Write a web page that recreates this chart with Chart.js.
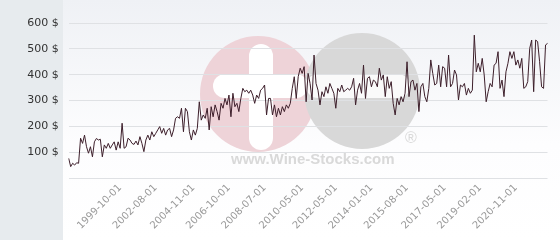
<!DOCTYPE html>
<html>
<head>
<meta charset="utf-8">
<script src="https://cdn.jsdelivr.net/npm/chart.js"></script>
<style>
  html, body { margin: 0; padding: 0; background: #e7ebee; }
</style>
</head>
<body>
<canvas id="priceChart" width="560" height="240"></canvas>
<script>
// Price per bottle
const prices = [
    76, 44, 57, 50, 59, 57, 154, 134, 166, 121, 96, 121, 82, 140, 153, 147, 150, 82, 128, 115,
    134, 115, 128, 140, 108, 140, 115, 212, 115, 121, 154, 147, 134, 130, 143, 128, 160, 134, 102, 147,
    166, 147, 179, 160, 173, 186, 199, 173, 192, 166, 186, 192,
    160, 186, 231, 237, 231, 270, 179, 270, 257, 179, 147, 186, 166, 192, 295, 224, 244, 231,
    270, 186, 276, 237, 283, 257, 224, 289, 270, 308, 283, 321, 237, 328, 276, 289, 257, 308,
    347, 334, 340, 328, 340, 321, 289, 321, 308, 340, 347, 360, 244, 308, 308, 244, 283, 237,
    270, 244, 276, 257, 283, 270, 289, 347,
    392, 308, 392, 425, 405, 431, 295, 405, 366, 302, 476, 366, 340, 283, 334, 315, 353, 328,
    366, 347, 328, 270, 347, 334, 360, 334, 340, 347, 340, 353, 386, 283, 340, 366, 328, 437,
    308, 386, 392, 353, 379, 373, 353, 425, 379, 399, 315, 392, 347, 373, 289, 244, 308, 283,
    315, 295, 328, 450, 315, 373, 379, 340, 366,
    257, 353, 366, 315, 295, 347, 457, 405, 360, 366, 437, 353, 431, 425, 353, 476, 353, 366,
    418, 399, 302, 360, 353, 366, 321, 347, 328, 340, 553, 411, 444, 411, 463, 399, 295, 334,
    366, 353, 437, 444, 489, 347, 379, 315, 411, 444, 489, 463, 489, 437, 457, 425, 463, 347,
    353, 373, 502, 534, 334, 534, 528, 450, 353, 347, 515, 521
];

// Dates shown on the x axis and the point each one sits on
const tickLabels = ["1999-10-01", "2002-08-01", "2004-11-01", "2006-10-01", "2008-07-01", "2010-05-01",
    "2012-05-01", "2014-01-01", "2015-08-01", "2017-05-01", "2019-02-01", "2020-11-01"];
const tickIndex = [26, 44, 63, 81, 99, 118, 135, 153, 171, 190, 208, 226];

const yTicks = [0, 100, 200, 300, 400, 500, 600];

// Side panel, plot background and the site watermark
const backdrop = {
    id: "backdrop",
    beforeDraw(chart) {
        const ctx = chart.ctx;
        ctx.save();
        ctx.fillStyle = "#e7ebee";
        ctx.fillRect(0, 0, chart.width, chart.height);
        const g = ctx.createLinearGradient(0, 0, 0, chart.height);
        g.addColorStop(0, "#eff1f5");
        g.addColorStop(0.6, "#fdfdfe");
        g.addColorStop(1, "#ffffff");
        ctx.fillStyle = g;
        ctx.fillRect(63, 0, chart.width - 63, chart.height);

        // pink circle with a plus
        ctx.fillStyle = "#eed3d8";
        ctx.beginPath();
        ctx.arc(258, 94, 58, 0, Math.PI * 2);
        ctx.fill();
        // grey circle with a minus
        ctx.fillStyle = "#d8d8d8";
        ctx.beginPath();
        ctx.arc(362, 91, 58, 0, Math.PI * 2);
        ctx.fill();

        ctx.fillStyle = "#ffffff";
        ctx.beginPath();
        ctx.roundRect(249, 44, 24, 106, 12);
        ctx.fill();
        ctx.beginPath();
        ctx.roundRect(213, 74, 95, 24, 12);
        ctx.fill();
        ctx.fillStyle = "#fafafa";
        ctx.beginPath();
        ctx.roundRect(306, 74, 104, 24, 12);
        ctx.fill();

        ctx.fillStyle = "#d9d9d9";
        ctx.font = "bold 15px 'Liberation Sans', Arial, sans-serif";
        ctx.textAlign = "left";
        ctx.textBaseline = "middle";
        ctx.fillText("www.Wine-Stocks.com", 231, 160);
        ctx.font = "16px 'Liberation Sans', Arial, sans-serif";
        ctx.fillText("\u00AE", 405, 139);
        ctx.restore();
    }
};

new Chart(document.getElementById("priceChart").getContext("2d"), {
    type: "line",
    data: {
        labels: prices.map((v, i) => i),
        datasets: [{
            label: "Price",
            data: prices,
            borderColor: "#3d1f2b",
            borderWidth: 1,
            pointRadius: 0,
            tension: 0,
            fill: false
        }]
    },
    options: {
        responsive: false,
        animation: false,
        devicePixelRatio: 1,
        layout: { padding: { top: 23, right: 5, left: 0, bottom: 0 } },
        plugins: { legend: { display: false }, tooltip: { enabled: false } },
        scales: {
            x: {
                type: "category",
                offset: false,
                grid: { display: false, drawTicks: false },
                border: { display: false },
                afterFit(scale) { scale.height = 62; },
                ticks: {
                    autoSkip: false,
                    minRotation: 45,
                    maxRotation: 45,
                    padding: 4,
                    color: "#999999",
                    font: { family: "'DejaVu Sans'", size: 10 },
                    callback(value) {
                        const k = tickIndex.indexOf(value);
                        return k >= 0 ? tickLabels[k] : "";
                    }
                }
            },
            y: {
                min: 0,
                max: 600,
                grid: { color: "#dfe1e4", drawTicks: false },
                border: { display: false },
                afterFit(scale) { scale.width = 68.7; },
                afterBuildTicks(scale) { scale.ticks = yTicks.map(v => ({ value: v })); },
                ticks: {
                    autoSkip: false,
                    padding: 10,
                    color: "#333333",
                    font: { family: "'DejaVu Sans'", size: 11 },
                    callback(value) { return value === 0 ? "" : value + " $"; }
                }
            }
        }
    },
    plugins: [backdrop]
});
</script>
</body>
</html>
